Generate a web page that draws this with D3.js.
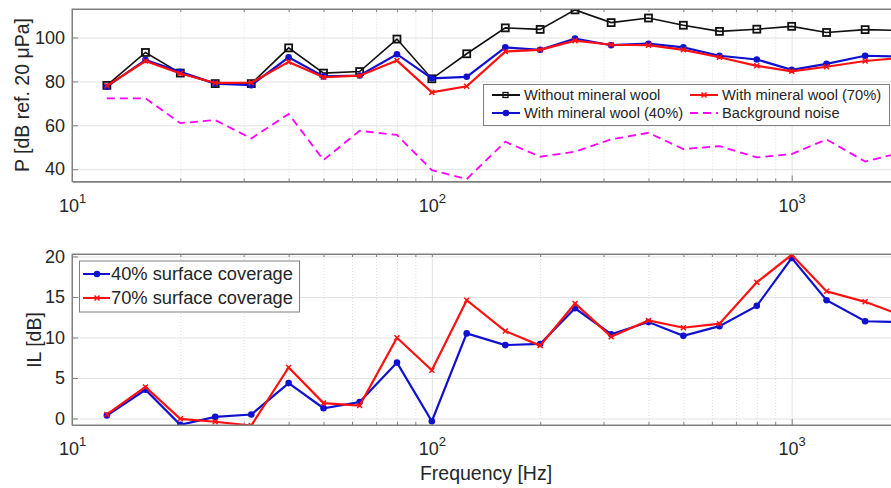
<!DOCTYPE html>
<html>
<head>
<meta charset="utf-8">
<script src="https://cdn.jsdelivr.net/npm/d3@7"></script>
<style>
  body { margin: 0; background: #fff; }
  svg { display: block; font-family: "Liberation Sans", Arial, sans-serif; }
  .grid line { stroke: #e3e3e3; }
  .grid .domain { display: none; }
  .minor line { stroke: #dcdcdc; stroke-dasharray: 1,2; }
  .ax .domain { stroke: #808080; }
  .ax line { stroke: #808080; }
  .ax text { fill: #262626; font-size: 18px; }
</style>
</head>
<body>
<script>
// 1/3 octave centre frequencies
const freqs = [12.5, 16, 20, 25, 31.5, 40, 50, 63, 80, 100, 125, 160, 200, 250, 315, 400, 500, 630, 800, 1000, 1250, 1600, 2000];

// top panel: sound pressure [dB ref. 20 uPa]
const withoutWool = [78.2, 93.2, 83.8, 79, 79, 95.3, 83.8, 84.5, 99.3, 81.2, 92.6, 104.4, 103.7, 112.6, 106.8, 108.9, 105.6, 102.8, 103.8, 105.1, 102.3, 103.6, 103.2];
const wool40 = [77.6, 89.8, 84.4, 79, 78.3, 91, 82.3, 82.7, 92.4, 81.4, 82.1, 95.5, 94.4, 99.5, 96.5, 97.2, 95.5, 91.7, 90, 85.3, 88, 91.7, 91.3];
const wool70 = [78, 89.3, 83.6, 79.3, 79.4, 88.9, 81.9, 82.6, 89.5, 75, 77.8, 93.6, 94.4, 98.6, 96.7, 96.5, 94.4, 91, 87.1, 84.6, 86.7, 89.3, 90.7];
const background = [72.3, 72.3, 61, 62.4, 54, 65.2, 44.2, 57.5, 55.6, 39.6, 35.5, 52.5, 45.7, 48, 53.6, 56.6, 49.2, 50.5, 45.4, 46.9, 53.6, 43.5, 47.4];

// bottom panel: insertion loss [dB]
const il40 = [0.37, 3.55, -0.78, 0.2, 0.49, 4.37, 1.27, 2.04, 6.9, -0.33, 10.5, 9.06, 9.2, 13.6, 10.4, 11.9, 10.2, 11.4, 13.9, 19.8, 14.6, 12.0, 11.9];
const il70 = [0.5, 3.9, -0.04, -0.4, -0.86, 6.3, 1.9, 1.6, 9.96, 5.96, 14.6, 10.8, 9.0, 14.2, 10.1, 12.1, 11.2, 11.7, 16.8, 20.2, 15.7, 14.4, 12.8];

const xMajor = [10, 100, 1000];
const xMinor = [20, 30, 40, 50, 60, 70, 80, 90, 200, 300, 400, 500, 600, 700, 800, 900];
const topTicks = [40, 60, 80, 100];
const botTicks = [0, 5, 10, 15, 20];

var W = 891, H = 488;
var left = 72, right = 900;

var svg = d3.select("body").append("svg")
    .attr("width", W)
    .attr("height", H);

var x = d3.scaleLog().domain([10, 2000]).range([left, right]);

function panel(id, y0, y1, yDomain, yTicks) {
  var y = d3.scaleLinear().domain(yDomain).range([y1, y0]);
  var g = svg.append("g");

  g.append("clipPath").attr("id", id)
    .append("rect").attr("x", left).attr("y", y0).attr("width", right - left).attr("height", y1 - y0);

  // grids
  g.append("g").attr("class", "grid minor")
    .attr("transform", "translate(0," + y1 + ")")
    .call(d3.axisBottom(x).tickValues(xMinor).tickSize(-(y1 - y0)).tickFormat(""));
  g.append("g").attr("class", "grid")
    .attr("transform", "translate(0," + y1 + ")")
    .call(d3.axisBottom(x).tickValues(xMajor).tickSize(-(y1 - y0)).tickFormat(""));
  g.append("g").attr("class", "grid")
    .attr("transform", "translate(" + left + ",0)")
    .call(d3.axisLeft(y).tickValues(yTicks).tickSize(-(right - left)).tickFormat(""));

  // axes, ticks inside
  var xa = g.append("g").attr("class", "ax")
    .attr("transform", "translate(0," + y1 + ")")
    .call(d3.axisBottom(x).tickValues(xMajor).tickSizeInner(-6).tickSizeOuter(0).tickPadding(0));
  xa.selectAll(".tick text").each(function(d) {
    var t = d3.select(this).text("").attr("y", 30).attr("dy", null);
    t.append("tspan").text("10");
    t.append("tspan").attr("dy", -9).style("font-size", "13px").text(Math.round(Math.log10(d)));
  });
  g.append("g").attr("class", "ax")
    .attr("transform", "translate(0," + y1 + ")")
    .call(d3.axisBottom(x).tickValues(xMinor).tickSizeInner(-3).tickSizeOuter(0).tickFormat(""));
  g.append("g").attr("class", "ax")
    .attr("transform", "translate(0," + y0 + ")")
    .call(d3.axisTop(x).tickValues(xMajor.concat(xMinor)).tickSizeInner(-3).tickSizeOuter(0).tickFormat(""));
  g.append("g").attr("class", "ax")
    .attr("transform", "translate(" + left + ",0)")
    .call(d3.axisLeft(y).tickValues(yTicks).tickSizeInner(-6).tickSizeOuter(0).tickPadding(7));

  return { g: g, y: y, clip: "url(#" + id + ")" };
}

function series(p, vals, color, width, dash) {
  var line = d3.line().x(function(d, i) { return x(freqs[i]); }).y(function(d) { return p.y(d); });
  var s = p.g.append("g").attr("clip-path", p.clip);
  s.append("path").datum(vals)
    .attr("d", line)
    .attr("fill", "none")
    .attr("stroke", color)
    .attr("stroke-width", width)
    .attr("stroke-dasharray", dash || null);
  return s;
}

function markers(s, p, vals, kind, color) {
  vals.forEach(function(v, i) { marker(s, x(freqs[i]), p.y(v), kind, color); });
}

function marker(g, cx, cy, kind, color) {
  if (kind == "square") {
    g.append("rect").attr("x", cx - 3.5).attr("y", cy - 3.5).attr("width", 7).attr("height", 7)
      .attr("fill", "none").attr("stroke", color).attr("stroke-width", 1.8);
  } else if (kind == "dot") {
    g.append("circle").attr("cx", cx).attr("cy", cy).attr("r", 3.3).attr("fill", color);
  } else if (kind == "x") {
    g.append("path").attr("d", "M" + (cx - 2.5) + "," + (cy - 2.5) + "L" + (cx + 2.5) + "," + (cy + 2.5) +
        "M" + (cx - 2.5) + "," + (cy + 2.5) + "L" + (cx + 2.5) + "," + (cy - 2.5))
      .attr("stroke", color).attr("stroke-width", 1.5);
  }
}

function frame(y0, y1) {
  svg.append("rect").attr("x", left).attr("y", y0).attr("width", right - left).attr("height", y1 - y0)
    .attr("fill", "none").attr("stroke", "#808080").attr("stroke-width", 1);
}

// ---- top panel
var p1 = panel("c1", 9, 181.5, [34.4, 113], topTicks);
var s;
s = series(p1, withoutWool, "#111", 1.6); markers(s, p1, withoutWool, "square", "#111");
s = series(p1, wool40, "#1010d0", 2.2); markers(s, p1, wool40, "dot", "#1010d0");
s = series(p1, wool70, "#ff1010", 2.2); markers(s, p1, wool70, "x", "#ff1010");
series(p1, background, "#ff00ff", 1.8, "8,5");
frame(9, 181.5);

svg.append("text")
  .attr("transform", "translate(29," + 95 + ") rotate(-90)")
  .attr("text-anchor", "middle")
  .attr("fill", "#262626")
  .style("font-size", "19.5px")
  .text("P [dB ref. 20 μPa]");

// top legend
var lg = svg.append("g");
lg.append("rect").attr("x", 483.5).attr("y", 84.5).attr("width", 406).attr("height", 41)
  .attr("fill", "#fff").attr("stroke", "#808080");
var items1 = [
  { name: "Without mineral wool", color: "#111", kind: "square", lx: 492, ty: 100 },
  { name: "With mineral wool (40%)", color: "#1010d0", kind: "dot", lx: 492, ty: 118 },
  { name: "With mineral wool (70%)", color: "#ff1010", kind: "x", lx: 690, ty: 100 },
  { name: "Background noise", color: "#ff00ff", kind: "dash", lx: 690, ty: 118 }
];
items1.forEach(function(it) {
  var cy = it.ty - 5;
  lg.append("line").attr("x1", it.lx).attr("x2", it.lx + 28).attr("y1", cy).attr("y2", cy)
    .attr("stroke", it.color).attr("stroke-width", it.kind == "dash" ? 1.8 : 2)
    .attr("stroke-dasharray", it.kind == "dash" ? "8,5" : null);
  if (it.kind == "square") {
    lg.append("rect").attr("x", it.lx + 11).attr("y", cy - 2.5).attr("width", 5).attr("height", 5)
      .attr("fill", "none").attr("stroke", it.color).attr("stroke-width", 1.3);
  } else if (it.kind != "dash") {
    marker(lg, it.lx + 14, cy, it.kind, it.color);
  }
  lg.append("text").attr("x", it.lx + 32).attr("y", it.ty)
    .attr("fill", "#262626").style("font-size", "14.7px").text(it.name);
});

// ---- bottom panel
var p2 = panel("c2", 254, 425, [-0.8, 20.3], botTicks);
s = series(p2, il40, "#1010d0", 2.2); markers(s, p2, il40, "dot", "#1010d0");
s = series(p2, il70, "#ff1010", 2.2); markers(s, p2, il70, "x", "#ff1010");
frame(254, 425);

svg.append("text")
  .attr("transform", "translate(41," + 340 + ") rotate(-90)")
  .attr("text-anchor", "middle")
  .attr("fill", "#262626")
  .style("font-size", "19.5px")
  .text("IL [dB]");

svg.append("text")
  .attr("x", (left + right) / 2).attr("y", 480)
  .attr("text-anchor", "middle")
  .attr("fill", "#262626")
  .style("font-size", "19.5px")
  .text("Frequency [Hz]");

// bottom legend
var lg2 = svg.append("g");
lg2.append("rect").attr("x", 79.5).attr("y", 261).attr("width", 220).attr("height", 51)
  .attr("fill", "#fff").attr("stroke", "#808080");
var items2 = [
  { name: "40% surface coverage", color: "#1010d0", kind: "dot", ty: 280 },
  { name: "70% surface coverage", color: "#ff1010", kind: "x", ty: 304 }
];
items2.forEach(function(it) {
  var cy = it.ty - 6;
  lg2.append("line").attr("x1", 83).attr("x2", 110).attr("y1", cy).attr("y2", cy)
    .attr("stroke", it.color).attr("stroke-width", 2);
  marker(lg2, 97, cy, it.kind, it.color);
  lg2.append("text").attr("x", 111).attr("y", it.ty)
    .attr("fill", "#262626").style("font-size", "18.3px").text(it.name);
});
</script>
</body>
</html>
